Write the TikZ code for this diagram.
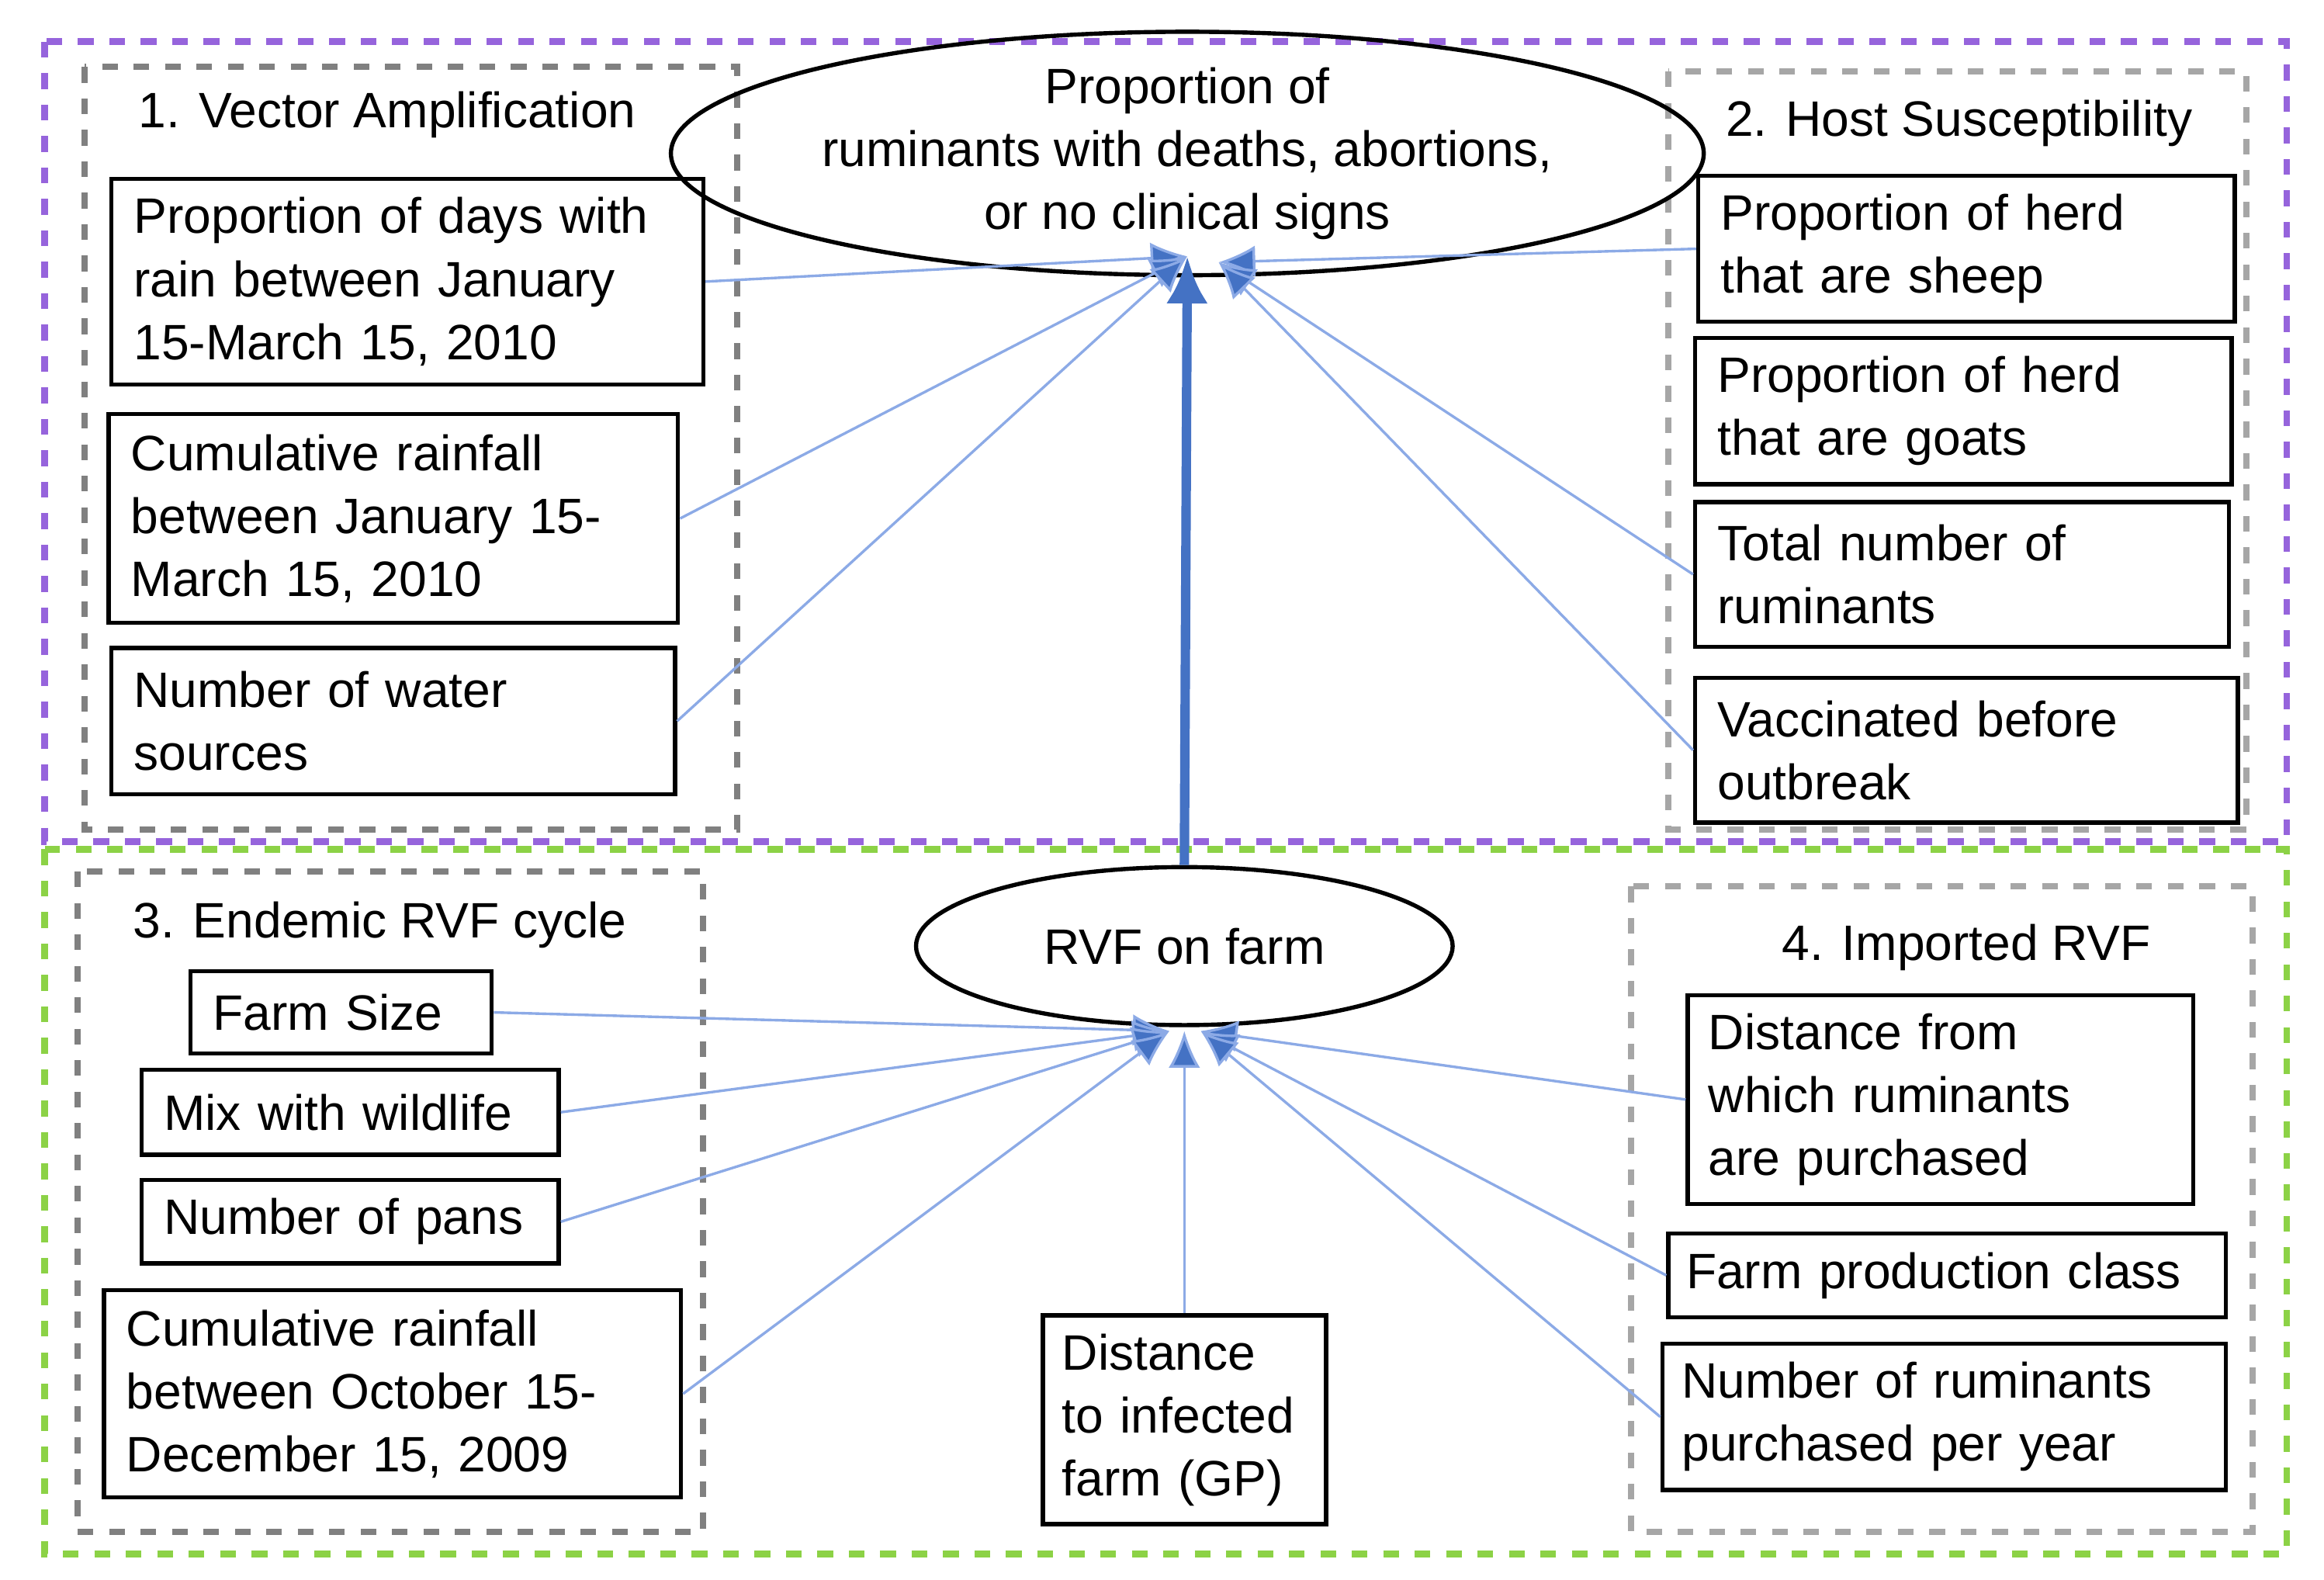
\documentclass[tikz,border=0pt]{standalone}
\usepackage{fontspec}
\setmainfont{Liberation Sans}
\usetikzlibrary{shapes.geometric,arrows.meta}
\definecolor{linkblue}{RGB}{140,170,230}
\definecolor{headblue}{RGB}{68,114,196}
\definecolor{purpleframe}{RGB}{150,100,220}
\definecolor{greenframe}{RGB}{140,210,70}

\tikzstyle{box} = [rectangle, draw, thick, align=left, inner sep=0pt, font=\fontsize{9.5}{12}\selectfont]
\tikzstyle{group} = [draw=gray, dashed, line width=1.2pt]
\tikzstyle{oval} = [ellipse, draw, thick, align=center, font=\fontsize{9.5}{12}\selectfont]
\tikzstyle{title} = [font=\fontsize{9.5}{12}\selectfont]
\tikzstyle{link} = [draw=linkblue, line width=0.5pt, -{Latex[length=7pt,width=6pt,fill=headblue]}]

\begin{document}
\begin{tikzpicture}[x=0.01cm, y=-0.01cm]
\useasboundingbox (0,0) rectangle (1560,1060);
% frames
\draw [draw=purpleframe, dashed, line width=1.3pt] (30,28) rectangle (1535,565);
\draw [draw=greenframe, dashed, line width=1.3pt] (30,570) rectangle (1535,1043);
\draw [group] (57,45) rectangle (495,557);
\draw [group, draw=gray!70] (1120,48) rectangle (1508,557);
\draw [group] (52,585) rectangle (472,1028);
\draw [group, draw=gray!70] (1095,595) rectangle (1512,1028);
\node [title] at (260,77) {1. Vector Amplification};
\node [title] at (1315,83) {2. Host Susceptibility};
\node [title] at (255,621) {3. Endemic RVF cycle};
\node [title] at (1320,636) {4. Imported RVF};

% outcomes
\node (outcome) [oval, minimum width=5.44cm, minimum height=1.30cm, inner sep=0pt] at (797,103) {Proportion of\\ruminants with deaths, abortions,\\or no clinical signs};
\node (rvf) [oval, minimum width=3.60cm, minimum height=1.06cm] at (795,635) {RVF on farm};
\coordinate (topL) at (797,172);
\coordinate (topR) at (818,176);
\coordinate (botL) at (785,692);
\coordinate (botR) at (806,692);

% vector amplification
\node (rainDays) [box, minimum width=3.97cm, minimum height=1.38cm, text width=3.67cm] at (273.5,189) {Proportion of days with\\rain between January\\15-March 15, 2010};
\node (rainCum) [box, minimum width=3.82cm, minimum height=1.40cm, text width=3.52cm] at (264,348) {Cumulative rainfall\\between January 15-\\March 15, 2010};
\node (water) [box, minimum width=3.78cm, minimum height=0.98cm, text width=3.48cm] at (264,484) {Number of water\\sources};
% host susceptibility
\node (sheep) [box, minimum width=3.60cm, minimum height=0.98cm, text width=3.30cm] at (1320,167) {Proportion of herd\\that are sheep};
\node (goats) [box, minimum width=3.60cm, minimum height=0.98cm, text width=3.30cm] at (1318,276) {Proportion of herd\\that are goats};
\node (total) [box, minimum width=3.58cm, minimum height=0.97cm, text width=3.28cm] at (1317,385.5) {Total number of\\ruminants};
\node (vacc) [box, minimum width=3.64cm, minimum height=0.97cm, text width=3.34cm] at (1320,503.5) {Vaccinated before\\outbreak};
% endemic cycle
\node (size) [box, minimum width=2.02cm, minimum height=0.55cm, text width=1.72cm] at (229,679.5) {Farm Size};
\node (wild) [box, minimum width=2.80cm, minimum height=0.57cm, text width=2.50cm] at (235,746.5) {Mix with wildlife};
\node (pans) [box, minimum width=2.80cm, minimum height=0.56cm, text width=2.50cm] at (235,820) {Number of pans};
\node (rainOct) [box, minimum width=3.87cm, minimum height=1.39cm, text width=3.57cm] at (263.5,935.5) {Cumulative rainfall\\between October 15-\\December 15, 2009};
\node (dist) [box, minimum width=1.90cm, minimum height=1.40cm, text width=1.64cm] at (795,953) {Distance\\to infected\\farm (GP)};
% imported
\node (purchDist) [box, minimum width=3.39cm, minimum height=1.40cm, text width=3.11cm] at (1302.5,738) {Distance from\\which ruminants\\are purchased};
\node (prodClass) [box, minimum width=3.74cm, minimum height=0.56cm, text width=3.50cm] at (1307,856) {Farm production class};
\node (purchNum) [box, minimum width=3.78cm, minimum height=0.98cm, text width=3.52cm] at (1305,951) {Number of ruminants\\purchased per year};

% connectors
\draw [line width=1.8pt, draw=headblue, -{Latex[length=9pt,width=8pt]}] (rvf.north) -- (topL);
\draw [link] (rainDays.east) -- (topL);
\draw [link] (rainCum.east) -- (topL);
\draw [link] (water.east) -- (topL);
\draw [link] (sheep.west) -- (topR);
\draw [link] (total.west) -- (topR);
\draw [link] (vacc.west) -- (topR);
\draw [link] (size.east) -- (botL);
\draw [link] (wild.east) -- (botL);
\draw [link] (pans.east) -- (botL);
\draw [link] (rainOct.east) -- (botL);
\draw [link] (dist.north) -- (795,692);
\draw [link] (purchDist.west) -- (botR);
\draw [link] (prodClass.west) -- (botR);
\draw [link] (purchNum.west) -- (botR);
\end{tikzpicture}
\end{document}
